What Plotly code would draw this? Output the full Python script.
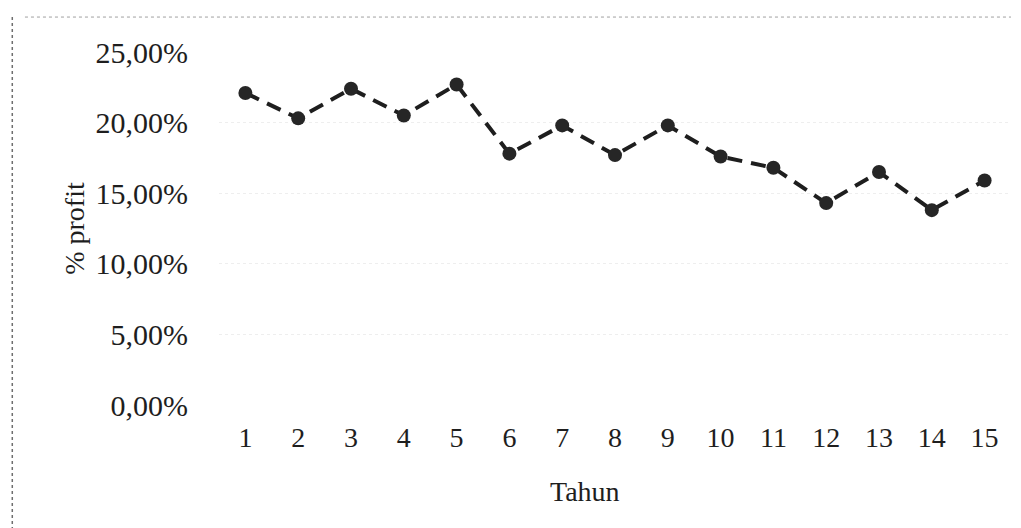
import plotly.graph_objects as go

# Profit percentage per year
tahun = list(range(1, 16))
profit = [0.221, 0.203, 0.224, 0.205, 0.227, 0.178, 0.198, 0.177, 0.198,
          0.176, 0.168, 0.143, 0.165, 0.138, 0.159]
y_ticks = [0.0, 0.05, 0.10, 0.15, 0.20, 0.25]

SERIF = "Liberation Serif"
INK = "#1e1e1e"

fig = go.Figure(
    go.Scatter(
        x=tahun,
        y=profit,
        mode="lines+markers",
        line=dict(color=INK, width=4, dash="15px,9px"),
        marker=dict(symbol="circle", size=14, color="#262626"),
        cliponaxis=False,
        showlegend=False,
    )
)

fig.update_layout(
    width=1021,
    height=528,
    paper_bgcolor="white",
    plot_bgcolor="white",
    separators=",.",
    margin=dict(l=219, r=10, t=52, b=123),
    font=dict(family=SERIF, size=28, color=INK),
    xaxis=dict(
        range=[0.5, 15.5],
        tickmode="array",
        tickvals=tahun,
        ticktext=[str(t) for t in tahun],
        tickfont=dict(family=SERIF, size=28, color=INK),
        ticks="outside",
        ticklen=7,
        tickcolor="rgba(0,0,0,0)",
        showgrid=False,
        zeroline=False,
        showline=False,
    ),
    yaxis=dict(
        range=[0, 0.25],
        tickmode="array",
        tickvals=y_ticks,
        tickformat=".2%",
        tickfont=dict(family=SERIF, size=30, color=INK),
        ticks="outside",
        ticklen=24,
        tickcolor="rgba(0,0,0,0)",
        showgrid=True,
        gridcolor="#eeeeee",
        griddash="dot",
        gridwidth=1,
        zeroline=False,
        showline=False,
        title=dict(text="% profit", font=dict(family=SERIF, size=28, color=INK), standoff=2),
    ),
    annotations=[
        # x-axis title, set slightly left of centre
        dict(text="Tahun", xref="paper", yref="paper", x=0.462, y=-0.246,
             xanchor="center", yanchor="middle", showarrow=False,
             font=dict(family=SERIF, size=28, color=INK)),
    ],
    shapes=[
        # chart frame edges (dotted)
        dict(type="line", xref="paper", yref="paper", x0=-0.245, x1=1.0, y0=1.099, y1=1.099,
             line=dict(color="#a0a0a0", width=1, dash="dot")),
        dict(type="line", xref="paper", yref="paper", x0=-0.261, x1=-0.261, y0=1.099, y1=-0.35,
             line=dict(color="#6e6e6e", width=1.5, dash="dot")),
    ],
)

fig.write_html("out.html")
